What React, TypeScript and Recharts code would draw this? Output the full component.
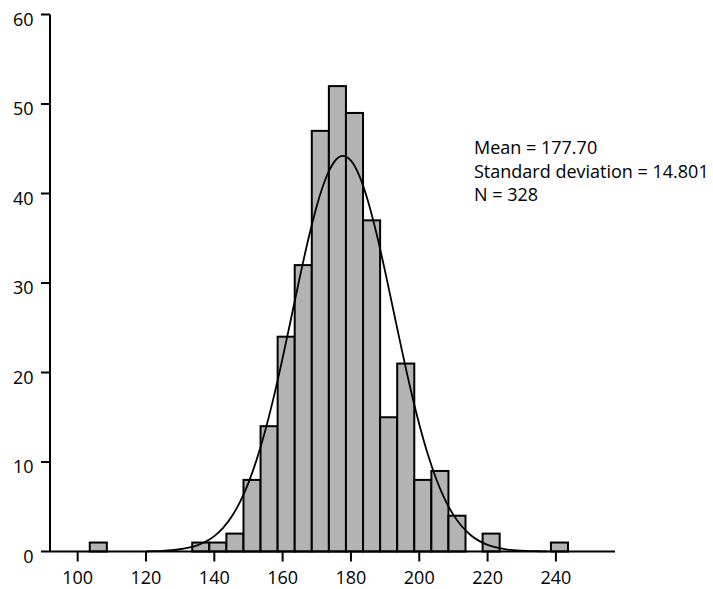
import { ComposedChart, Bar, Line, XAxis, YAxis } from 'recharts'

// histogram bins (centre of each 5-unit bin) and their counts
const binCenters = [106, 136, 141, 146, 151, 156, 161, 166, 171, 176, 181, 186, 191, 196, 201, 206, 211, 221, 241]
const binCounts = [1, 1, 1, 2, 8, 14, 24, 32, 47, 52, 49, 37, 15, 21, 8, 9, 4, 2, 1]

// fitted normal curve
const curveX = [
  120, 122.5, 125, 127.5, 130, 132.5, 135, 137.5, 140, 142.5, 145, 147.5, 150, 152.5, 155, 157.5,
  160, 162.5, 165, 167.5, 170, 172.5, 175, 177.5, 180, 182.5, 185, 187.5, 190, 192.5, 195, 197.5,
  200, 202.5, 205, 207.5, 210, 212.5, 215, 217.5, 220, 222.5, 225, 227.5, 230, 232.5, 235, 237.5,
]
const curveY = [
  0.02, 0.04, 0.08, 0.14, 0.25, 0.42, 0.69, 1.11, 1.72, 2.61, 3.85, 5.52, 7.67, 10.38, 13.64, 17.42,
  21.62, 26.09, 30.59, 34.86, 38.61, 41.56, 43.48, 44.2, 43.67, 41.94, 39.14, 35.5, 31.3, 26.81, 22.33, 18.07,
  14.21, 10.86, 8.07, 5.82, 4.09, 2.79, 1.85, 1.19, 0.74, 0.45, 0.27, 0.15, 0.09, 0.05, 0.03, 0.01,
]

const xTicks = [100, 120, 140, 160, 180, 200, 220, 240]
const yTicks = [0, 10, 20, 30, 40, 50, 60]
const statsLines = ['Mean = 177.70', 'Standard deviation = 14.801', 'N = 328']

const font = '"Open Sans", sans-serif'
const BIN_PX = 17.08 // one 5-unit bin on the x scale

const bars = binCenters.map((x, i) => ({ x, count: binCounts[i] }))
const curve = curveX.map((x, i) => ({ x, y: curveY[i] }))

const XTick = ({ x, y, payload }: any) => (
  <text x={x} y={y + 20.5} textAnchor="middle" fontSize={18} fontFamily={font} fill="#000">
    {payload.value}
  </text>
)

const YTick = ({ x, y, payload }: any) => (
  <text x={x - 5.5} y={y + 4} textAnchor="end" dominantBaseline="central" fontSize={18} fontFamily={font} fill="#000">
    {payload.value}
  </text>
)

// bars sit side by side, each one bin wide
const BinBar = ({ x, y, width, height }: any) => {
  if (!height) return null
  const cx = x + width / 2
  return (
    <rect x={cx - BIN_PX / 2} y={y} width={BIN_PX} height={height} fill="#b3b3b3" stroke="#000" strokeWidth={2} />
  )
}

export default function App() {
  return (
    <div style={{ position: 'absolute', left: 0, top: 0, width: 713, height: 589, background: '#fff' }}>
      <ComposedChart
        width={713}
        height={589}
        data={bars}
        margin={{ top: 14.5, right: 98, bottom: 7.5, left: 10 }}
      >
        <XAxis
          dataKey="x"
          type="number"
          domain={[91.9, 257.3]}
          ticks={xTicks}
          allowDataOverflow
          tickSize={10}
          height={30}
          stroke="#000"
          strokeWidth={2}
          tick={<XTick />}
        />
        <YAxis
          type="number"
          domain={[0, 60]}
          ticks={yTicks}
          tickSize={9}
          width={40}
          stroke="#000"
          strokeWidth={2}
          tick={<YTick />}
        />
        <Bar dataKey="count" shape={<BinBar />} isAnimationActive={false} />
        <Line
          data={curve}
          dataKey="y"
          type="monotone"
          stroke="#000"
          strokeWidth={1.8}
          dot={false}
          activeDot={false}
          isAnimationActive={false}
        />
      </ComposedChart>
      <div
        style={{
          position: 'absolute',
          left: 474,
          top: 136.3,
          fontFamily: font,
          fontSize: 18,
          lineHeight: '23.4px',
          color: '#000',
          whiteSpace: 'nowrap',
        }}
      >
        {statsLines.map(s => (
          <div key={s}>{s}</div>
        ))}
      </div>
    </div>
  )
}
